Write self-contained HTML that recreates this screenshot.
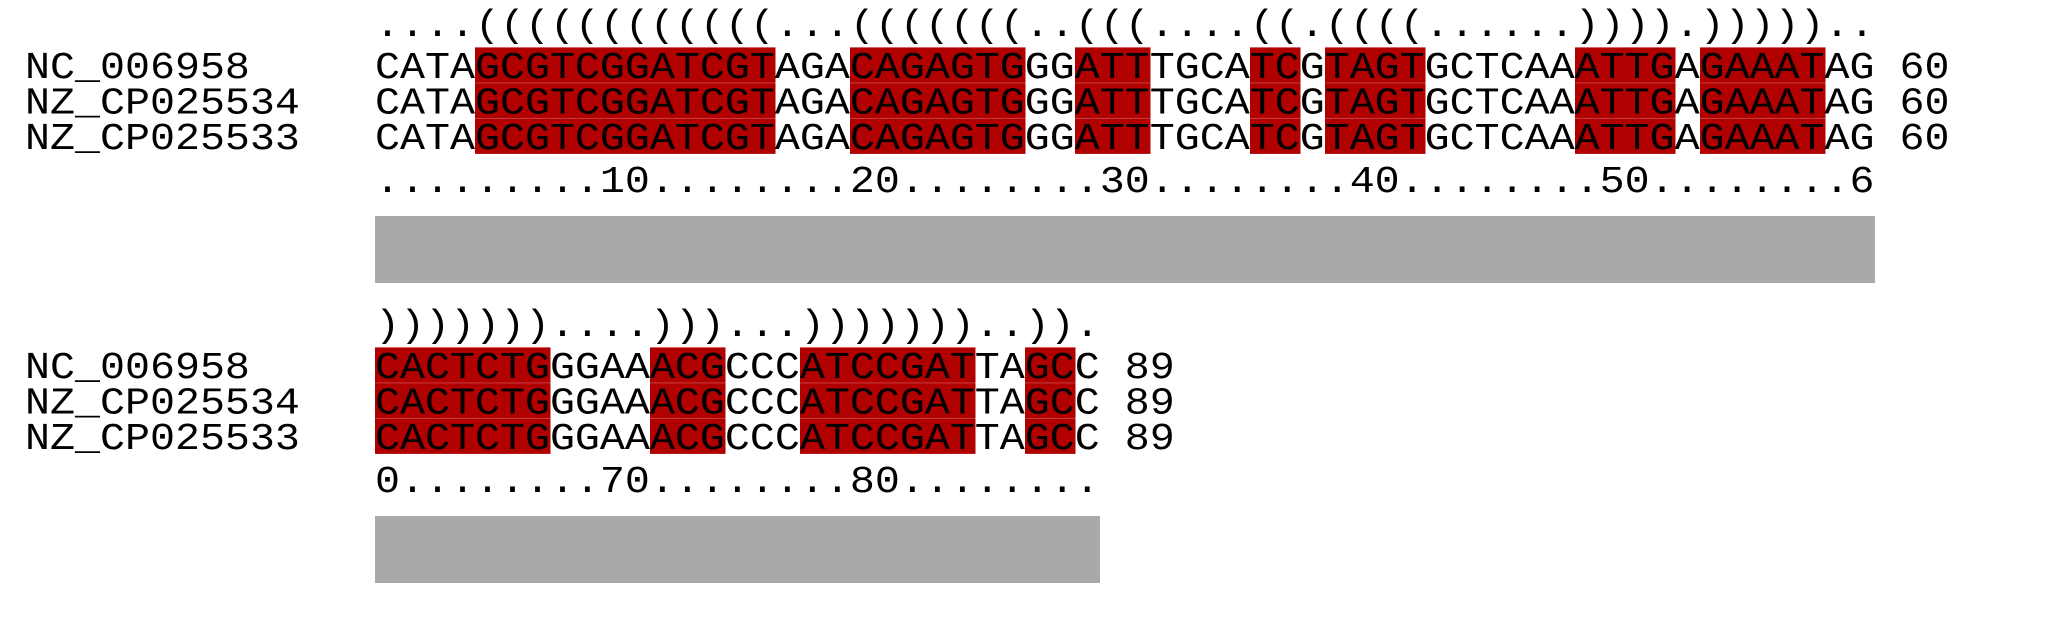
<!DOCTYPE html>
<html><head><meta charset="utf-8"><style>
html,body{margin:0;padding:0;background:#fff;}
svg text{font-family:"Liberation Mono","DejaVu Sans Mono",monospace;font-size:41.67px;fill:#000;}
</style></head><body>
<svg id="chart" width="2050" height="612" xmlns="http://www.w3.org/2000/svg"></svg>
<script>
const names = ["NC_006958","NZ_CP025534","NZ_CP025533"];
const sequence = "CATAGCGTCGGATCGTAGACAGAGTGGGATTTGCATCGTAGTGCTCAAATTGAGAAATAGCACTCTGGGAAACGCCCATCCGATTAGCC";
const structure = "....((((((((((((...(((((((..(((....((.((((......)))).)))))..)))))))....)))...)))))))..)).";
const blockStarts = [0, 60];
const blockEnds = [60, 89];

const svg = document.getElementById('chart');
const NS = "http://www.w3.org/2000/svg";
const X0 = 375, CW = 25, ROWH = 35.5, BLOCKDY = 300;
function colX(i){ return X0 + i*CW; }

function addText(str, x, baseline, name){
  const g = document.createElementNS(NS,'g');
  g.setAttribute('transform','translate('+x+','+baseline+') scale(1,0.92)');
  const t = document.createElementNS(NS,'text');
  t.setAttribute('x',0); t.setAttribute('y',0);
  t.setAttribute('xml:space','preserve');
  t.textContent = str;
  
  
  g.appendChild(t); svg.appendChild(g);
}
let full = [];
for(let p=1;p<=sequence.length;p++) full.push(".");
for(let p=10;p<=sequence.length;p+=10){
  const lab = String(p);
  for(let k=0;k<lab.length;k++){ if(p-1+k < full.length) full[p-1+k]=lab[k]; }
}

blockStarts.forEach((s,b)=>{
  const e = blockEnds[b];
  const oy = b*BLOCKDY;
  const top = 47.4 + oy;
  for(let r=0;r<3;r++){
    for(let i=s;i<e;i++){
      if(structure[i] !== '.'){
        const rect = document.createElementNS(NS,'rect');
        rect.setAttribute('x', colX(i-s)); rect.setAttribute('y', top + r*ROWH);
        rect.setAttribute('width', CW+0.5); rect.setAttribute('height', ROWH);
        rect.setAttribute('fill', '#b00000');
        
        
        svg.appendChild(rect);
      }
    }
  }
  for(let r=1;r<3;r++){
    for(let i=s;i<e;i++){
      if(structure[i] !== '.'){
        const ln = document.createElementNS(NS,'rect');
        ln.setAttribute('x', colX(i-s)); ln.setAttribute('y', top + r*ROWH - 0.5);
        ln.setAttribute('width', CW+0.5); ln.setAttribute('height', 1);
        ln.setAttribute('fill', '#c84040');
        
        
        svg.appendChild(ln);
      }
    }
  }
  addText(structure.slice(s,e), X0, 36+oy, 'structure-line');
  for(let r=0;r<3;r++){
    const bl = 78 + r*ROWH + oy;
    addText(names[r], 25, bl, 'sequence-name');
    addText(sequence.slice(s,e)+" "+e, X0, bl, 'sequence-row');
  }
  addText(full.slice(s,e).join(""), X0, 192+oy, 'position-ruler');
  const bar = document.createElementNS(NS,'rect');
  bar.setAttribute('x', X0); bar.setAttribute('y', 216+oy);
  bar.setAttribute('width', (e-s)*CW); bar.setAttribute('height', 67);
  bar.setAttribute('fill', '#a9a9a9');
  
  
  svg.appendChild(bar);
});
</script>
</body></html>
